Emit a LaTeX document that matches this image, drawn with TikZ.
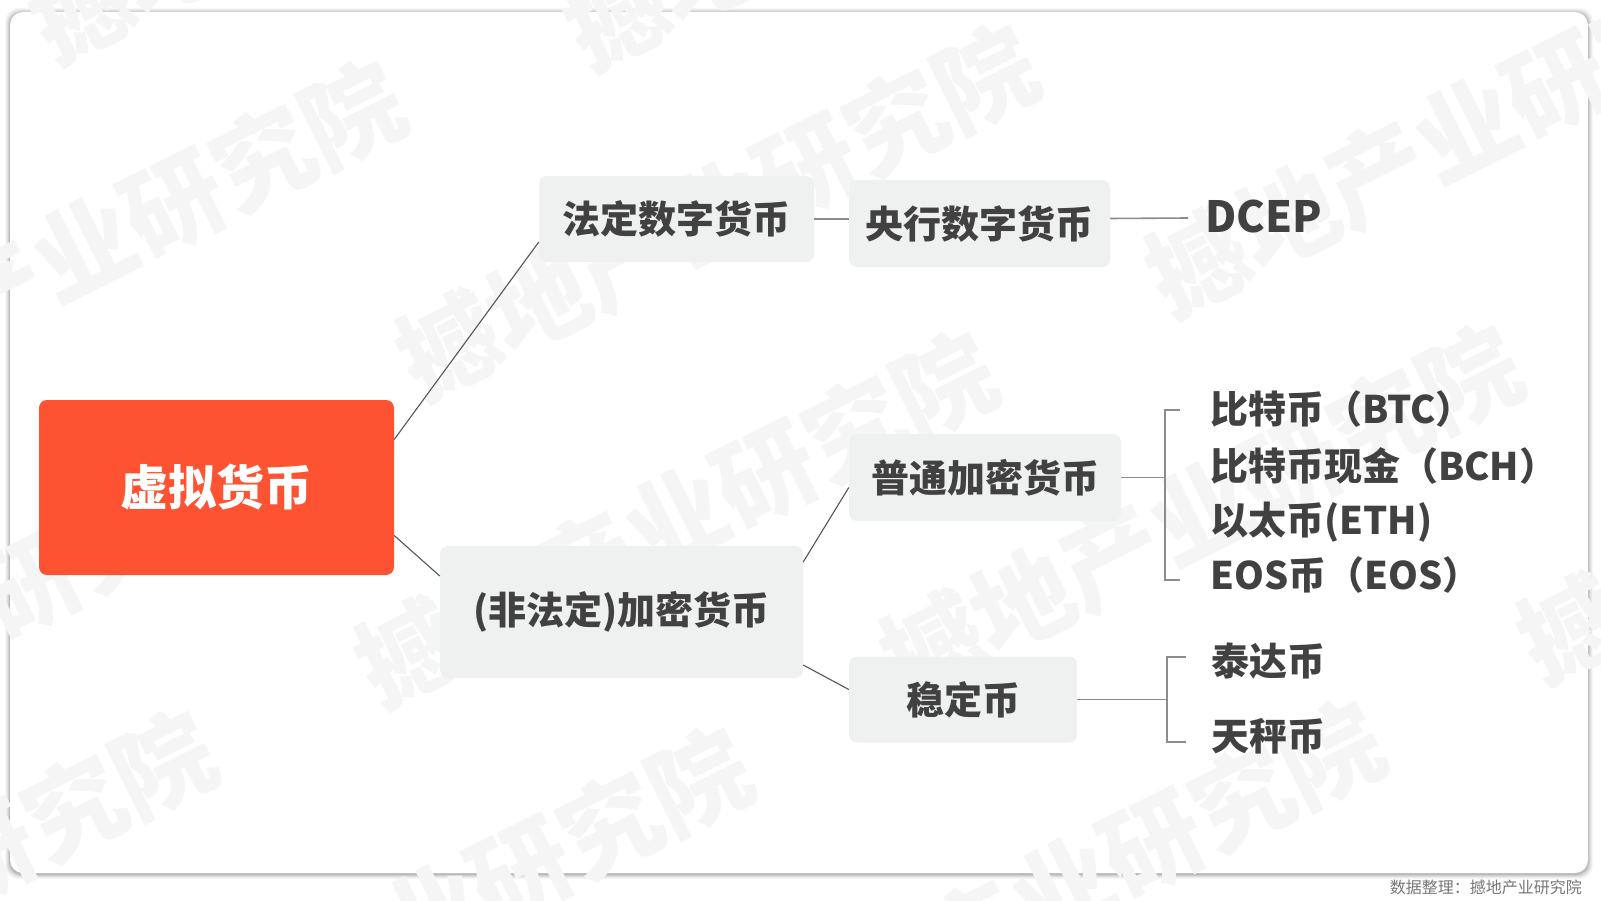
\documentclass[tikz,border=0pt]{standalone}
\usepackage{fontspec}
\setmainfont{Noto Sans CJK SC}
\usetikzlibrary{calc}
\definecolor{mainred}{HTML}{FE5332}
\definecolor{boxgray}{HTML}{EFF0F0}
\definecolor{txtgray}{HTML}{414141}
\definecolor{linegray}{HTML}{555555}
\definecolor{brgray}{HTML}{8C8C8C}
\definecolor{wmgray}{HTML}{F5F5F5}
\definecolor{srcgray}{HTML}{777777}
\tikzset{
  gbox/.style={fill=boxgray, rounded corners=8pt, inner sep=0pt, text=txtgray,
    font=\fontsize{38}{38}\selectfont\bfseries, align=center},
  mainbox/.style={fill=mainred, rounded corners=8pt, inner sep=0pt, text=white,
    font=\fontsize{48}{48}\selectfont\bfseries, align=center},
  item/.style={anchor=west, inner sep=0pt, text=txtgray, font=\fontsize{38}{38}\selectfont\bfseries},
  conn/.style={draw=linegray, line width=1.1pt},
  brline/.style={draw=brgray, line width=1.6pt},
  wmark/.style={inner sep=0pt, text=wmgray, rotate=26.6, font=\fontsize{100}{100}\selectfont\bfseries}
}
\begin{document}
\begin{tikzpicture}[x=1pt,y=-1pt]
\useasboundingbox (0,0) rectangle (1601,901);
\fill[white] (0,0) rectangle (1601,901);
% card shadow
\foreach \i/\o in {5/0.03,4/0.04,3/0.05,2/0.07,1/0.1}{
  \fill[black, opacity=\o, rounded corners=13pt] (10-\i,12-\i+1) rectangle (1588+\i,873+\i+1);
}
\fill[white, rounded corners=13pt] (10,12) rectangle (1588,873);
% watermark
\begin{scope}
\clip (0,0) rectangle (1601,901);
\node[wmark] (w1) at (717,212) {撼地产业研究院};
\node[wmark] (w2) at (1466,129) {撼地产业研究院};
\node[wmark] (w3) at (84,248) {撼地产业研究院};
\node[wmark] (w4) at (676,519) {撼地产业研究院};
\node[wmark] (w5) at (1201,512) {撼地产业研究院};
\node[wmark] (w6) at (431,915) {撼地产业研究院};
\node[wmark] (w7) at (1838,495) {撼地产业研究院};
\node[wmark] (w8) at (1063,888) {撼地产业研究院};
\node[wmark] (w9) at (-105,898) {撼地产业研究院};
\node[wmark] (w10) at (350,-125) {撼地产业研究院};
\node[wmark] (w11) at (885,-118) {撼地产业研究院};
\node[wmark] (w12) at (-60,629) {撼地产业研究院};
\end{scope}
% nodes
\node[mainbox, minimum width=355pt, minimum height=175pt] (main) at (216.5,487.5) {虚拟货币};
\node[gbox, minimum width=275pt, minimum height=86pt] (fd) at (676.5,219) {法定数字货币};
\node[gbox, minimum width=261pt, minimum height=87pt] (yh) at (979.5,223.5) {央行数字货币};
\node[anchor=west, inner sep=0pt, text=txtgray, font=\fontsize{43}{43}\selectfont\bfseries] (dcep) at (1205,217) {DCEP};
\node[gbox, minimum width=363pt, minimum height=132pt] (jm) at (621.5,612) {(非法定)加密货币};
\node[gbox, minimum width=272pt, minimum height=87pt] (pt) at (985,477.5) {普通加密货币};
\node[gbox, minimum width=228pt, minimum height=86pt] (wd) at (963,699.5) {稳定币};
\node[item] (btc) at (1210,409) {比特币（BTC）};
\node[item] (bch) at (1210,466) {比特币现金（BCH）};
\node[item] (eth) at (1210,522) {以太币(ETH)};
\node[item] (eos) at (1210,575) {EOS币（EOS）};
\node[item] (td) at (1211,661) {泰达币};
\node[item] (tp) at (1211,736) {天秤币};
\node[anchor=east, inner sep=0pt, text=srcgray, font=\fontsize{16}{16}\selectfont] (src) at (1582,887) {数据整理：撼地产业研究院};
% connectors
\draw[conn] ($(main.east)+(0,-48)$) -- ($(fd.west)+(0,23)$);
\draw[conn] ($(main.east)+(0,48)$) -- ($(jm.west)+(0,-36)$);
\draw[conn] ($(jm.east)+(0,-50)$) -- ($(pt.west)+(0,10)$);
\draw[conn] ($(jm.east)+(0,53)$) -- ($(wd.west)+(0,-10)$);
\draw[brline] (fd.east) -- (fd.east -| yh.west);
\draw[brline] ($(yh.east)+(0,-5)$) -- ($(dcep.west)+(-17,1)$);
% bracket for 普通加密货币
\coordinate (b1t) at (1180,410);
\coordinate (b1b) at (1180,580);
\draw[brline] (pt.east) -- (1165,477.5);
\draw[brline] (b1t) -- (1165,410) -- (1165,580) -- (b1b);
% bracket for 稳定币
\coordinate (b2t) at (1186,657);
\coordinate (b2b) at (1186,742);
\draw[brline] (wd.east) -- (1167,699.5);
\draw[brline] (b2t) -- (1167,657) -- (1167,742) -- (b2b);
\end{tikzpicture}
\end{document}
